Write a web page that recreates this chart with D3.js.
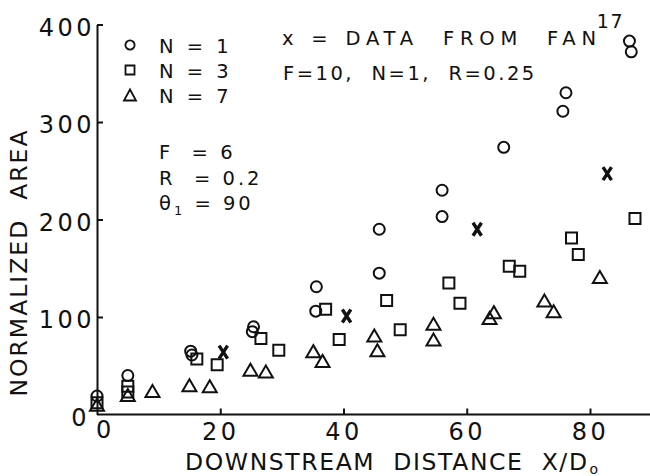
<!DOCTYPE html>
<html>
<head>
<meta charset="utf-8">
<script src="https://cdn.jsdelivr.net/npm/d3@7"></script>
<style>
  html, body { margin: 0; padding: 0; background: #fff; }
  svg { display: block; font-family: "DejaVu Sans", sans-serif; fill: #111; }
</style>
</head>
<body>
<svg id="chart" width="650" height="476"></svg>
<script>
// Normalized area against downstream distance X/D0 for N = 1, 3, 7 jets,
// with Fan's single-jet measurements marked by x.
const circlesN1 = [
  [0, 19], [5, 40], [15.2, 65], [15.4, 61], [25.4, 90], [25.2, 85],
  [35.6, 131], [35.5, 106], [45.8, 190], [45.8, 145], [56, 230], [56, 203],
  [66, 274], [75.6, 311], [76.1, 330], [86.4, 383], [86.7, 372]
];
const squaresN3 = [
  [0, 12], [5, 29], [5, 23], [16.2, 57], [19.5, 51], [26.6, 78], [29.5, 66],
  [37.1, 108], [39.3, 77], [47, 117], [49.2, 87], [57.1, 135], [58.9, 114],
  [66.9, 152], [68.6, 147], [77, 181], [78.1, 164], [87.3, 201]
];
const trianglesN7 = [
  [0, 10], [5, 20], [9, 24], [15, 30], [18.3, 29], [24.9, 46], [27.4, 44],
  [35.1, 65], [36.6, 55], [45, 81], [45.5, 66], [54.6, 93], [54.6, 77],
  [63.7, 99], [64.4, 105], [72.6, 117], [74.1, 106], [81.6, 141]
];
const fanData = [[20.5, 64], [40.5, 101], [61.7, 190], [82.8, 247]];

const xTicks = [0, 20, 40, 60, 80];
const yTicks = [0, 100, 200, 300, 400];

const legendRows = [
  { shape: "circle", label: "N = 1" },
  { shape: "square", label: "N = 3" },
  { shape: "triangle", label: "N = 7" }
];
const paramRows = [
  { name: "F", sub: "", value: "6" },
  { name: "R", sub: "", value: "0.2" },
  { name: "\u03B8", sub: "1", value: "90" }
];
const fanNote = "x = DATA  FROM  FAN";
const fanRef = "17";
const fanParams = "F=10,  N=1,  R=0.25";

const xTitle = "DOWNSTREAM  DISTANCE  X/D";
const xTitleSub = "o";
const yTitle = "NORMALIZED  AREA";

const W = 650, H = 476;
const svg = d3.select("#chart");

const x = d3.scaleLinear().domain([0, 80]).range([97, 590]);
const y = d3.scaleLinear().domain([0, 400]).range([414.5, 24.5]);
const xEnd = x.invert(W);

const ink = "#111";

// shape generators, centred on their bounding boxes
const shapes = {
  circle: r => `M${-r},0a${r},${r} 0 1,0 ${2 * r},0a${r},${r} 0 1,0 ${-2 * r},0Z`,
  square: s => `M${-s / 2},${-s / 2}h${s}v${s}h${-s}Z`,
  triangle: (w, h) => `M0,${-h / 2}L${w / 2},${h / 2}L${-w / 2},${h / 2}Z`,
  cross: (w, h) => `M${-w / 2},${-h / 2}L${w / 2},${h / 2}M${w / 2},${-h / 2}L${-w / 2},${h / 2}`
};

// axes: ticks point into the plot
const yAxis = d3.axisLeft(y).tickValues(yTicks).tickSizeInner(-6).tickSizeOuter(0).tickPadding(2)
  .tickFormat(d3.format("d"));
const xAxis = d3.axisBottom(x).tickValues(xTicks).tickSizeInner(-6).tickSizeOuter(0).tickPadding(8)
  .tickFormat(d3.format("d"));

const gy = svg.append("g").attr("transform", `translate(${x(0)},0)`).call(yAxis);
const gx = svg.append("g").attr("transform", `translate(0,${y(0)})`).call(xAxis);

gx.select(".domain").attr("d", `M${x(0)},0H${x(xEnd)}`);
[gx, gy].forEach(g => {
  g.select(".domain").attr("stroke", ink).attr("stroke-width", 2);
  g.selectAll(".tick line").attr("stroke", ink).attr("stroke-width", 2);
  g.selectAll(".tick text")
    .attr("fill", ink)
    .style("font-family", "'DejaVu Sans', sans-serif")
    .style("font-size", "24px")
    .style("letter-spacing", "3.5px");
});
gy.selectAll(".tick text").attr("dy", "0.45em");
// the corner has no tick marks
gy.selectAll(".tick").filter(d => d === 0).select("line").remove();
gx.selectAll(".tick").filter(d => d === 0).select("line").remove();
gy.selectAll(".tick").filter(d => d === 0).select("text").attr("dx", -5).attr("dy", "0.45em");
gx.selectAll(".tick").filter(d => d === 0).select("text").attr("dx", 8).attr("dy", "0.66em");

// axis titles
svg.append("text")
  .attr("x", 185).attr("y", 470)
  .style("font-size", "23.5px").style("letter-spacing", "1.6px").style("white-space", "pre")
  .attr("fill", ink)
  .call(t => {
    t.append("tspan").text(xTitle);
    t.append("tspan").attr("dx", 1).attr("dy", 4).style("font-size", "14px").text(xTitleSub);
  });

svg.append("text")
  .attr("transform", `translate(27,${(y(0) + y(400)) / 2 + 43}) rotate(-90)`)
  .attr("text-anchor", "middle")
  .style("font-size", "23.5px").style("letter-spacing", "2px").style("white-space", "pre")
  .attr("fill", ink)
  .text(yTitle);

// data marks
const markStyle = sel => sel.attr("fill", "none").attr("stroke", ink).attr("stroke-width", 2);

svg.append("g").selectAll("path").data(circlesN1).join("path")
  .attr("d", shapes.circle(5.5))
  .attr("transform", d => `translate(${x(d[0])},${y(d[1])})`)
  .call(markStyle);

svg.append("g").selectAll("path").data(squaresN3).join("path")
  .attr("d", shapes.square(11))
  .attr("transform", d => `translate(${x(d[0])},${y(d[1])})`)
  .call(markStyle);

svg.append("g").selectAll("path").data(trianglesN7).join("path")
  .attr("d", shapes.triangle(14, 12))
  .attr("transform", d => `translate(${x(d[0])},${y(d[1])})`)
  .call(markStyle).attr("stroke-linejoin", "miter");

svg.append("g").selectAll("path").data(fanData).join("path")
  .attr("d", shapes.cross(8.5, 13))
  .attr("transform", d => `translate(${x(d[0])},${y(d[1])})`)
  .attr("fill", "none").attr("stroke", ink).attr("stroke-width", 3.4);

// legend for jet counts
const legend = svg.append("g").attr("transform", "translate(130,45)");
legendRows.forEach((row, i) => {
  const g = legend.append("g").attr("transform", `translate(0,${i * 25})`);
  const d = row.shape === "circle" ? shapes.circle(4.6)
    : row.shape === "square" ? shapes.square(9)
    : shapes.triangle(12, 11);
  g.append("path").attr("d", d).call(markStyle).attr("stroke-width", 1.8);
  g.append("text").attr("x", 29).attr("y", 8)
    .style("font-size", "19.5px").style("letter-spacing", "3.5px").style("white-space", "pre")
    .attr("fill", ink).text(row.label);
});

// operating parameters
const params = svg.append("g").attr("transform", "translate(159,159)");
paramRows.forEach((row, i) => {
  const t = params.append("text").attr("y", i * 25.5)
    .style("font-size", "19.5px").style("letter-spacing", "3px").style("white-space", "pre")
    .attr("fill", ink);
  t.append("tspan").text(row.name);
  if (row.sub) t.append("tspan").attr("dy", 5).style("font-size", "13px").text(row.sub);
  t.append("tspan").attr("dy", row.sub ? -5 : 0).text((row.sub ? " = " : "  = ") + row.value);
});

// Fan's data note
const note = svg.append("text").attr("x", 282).attr("y", 45)
  .style("font-size", "19.5px").style("letter-spacing", "5.8px").style("white-space", "pre")
  .attr("fill", ink);
note.append("tspan").text(fanNote);
note.append("tspan").attr("dx", -5).attr("dy", -17).style("font-size", "19px").style("letter-spacing", "1.5px").text(fanRef);

svg.append("text").attr("x", 283).attr("y", 80)
  .style("font-size", "19.5px").style("letter-spacing", "2.5px").style("white-space", "pre")
  .attr("fill", ink).text(fanParams);
</script>
</body>
</html>
